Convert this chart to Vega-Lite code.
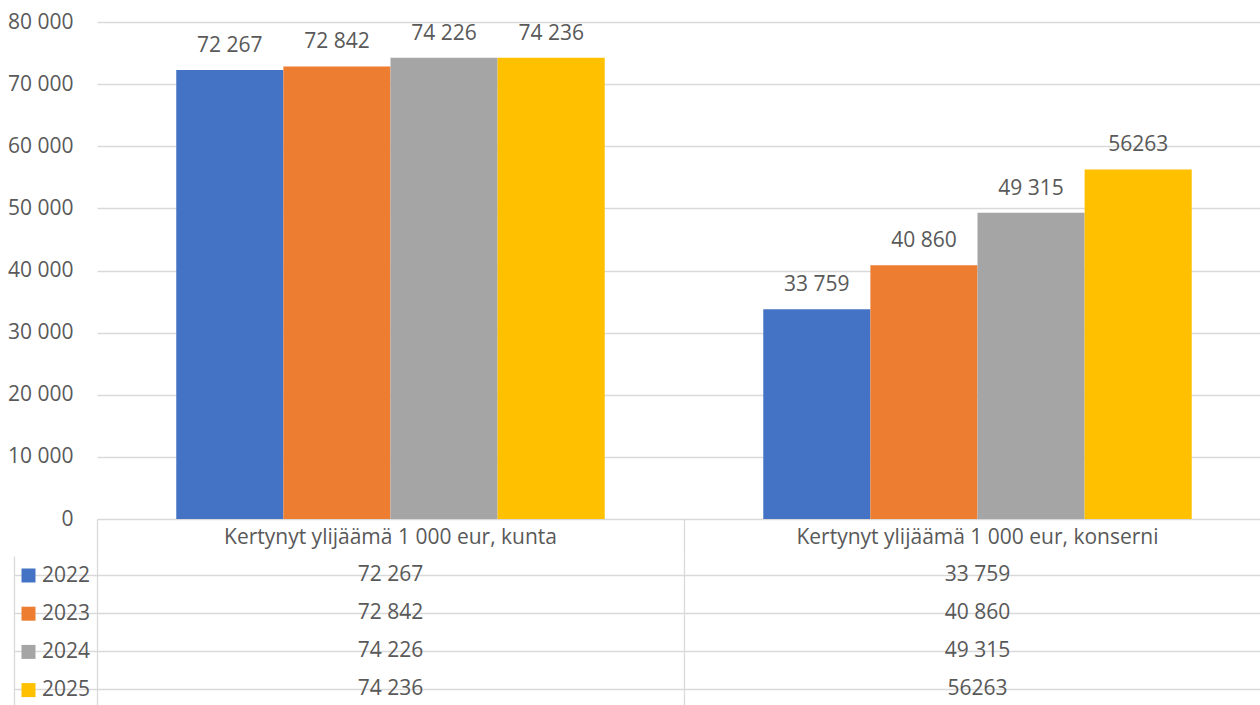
{
  "$schema": "https://vega.github.io/schema/vega-lite/v6.json",
  "padding": {"left": 7, "top": 11, "right": 0, "bottom": 0},
  "background": "white",
  "spacing": 0,
  "bounds": "flush",
  "config": {
    "view": {"stroke": null},
    "font": "Open Sans",
    "axis": {"labelFont": "Open Sans"},
    "legend": {"labelFont": "Open Sans"},
    "text": {"font": "Open Sans"}
  },
  "datasets": {
    "vals": [
      {"category": "Kertynyt ylijäämä 1 000 eur, kunta", "year": "2022", "value": 72267, "label": "72 267"},
      {"category": "Kertynyt ylijäämä 1 000 eur, kunta", "year": "2023", "value": 72842, "label": "72 842"},
      {"category": "Kertynyt ylijäämä 1 000 eur, kunta", "year": "2024", "value": 74226, "label": "74 226"},
      {"category": "Kertynyt ylijäämä 1 000 eur, kunta", "year": "2025", "value": 74236, "label": "74 236"},
      {"category": "Kertynyt ylijäämä 1 000 eur, konserni", "year": "2022", "value": 33759, "label": "33 759"},
      {"category": "Kertynyt ylijäämä 1 000 eur, konserni", "year": "2023", "value": 40860, "label": "40 860"},
      {"category": "Kertynyt ylijäämä 1 000 eur, konserni", "year": "2024", "value": 49315, "label": "49 315"},
      {"category": "Kertynyt ylijäämä 1 000 eur, konserni", "year": "2025", "value": 56263, "label": "56263"}
    ]
  },
  "vconcat": [
    {
      "width": 1163,
      "height": 497,
      "data": {"name": "vals"},
      "encoding": {
        "x": {"field": "category", "type": "nominal",
              "scale": {"domain": ["Kertynyt ylijäämä 1 000 eur, kunta", "Kertynyt ylijäämä 1 000 eur, konserni"], "range": [0, 1174], "paddingInner": 0, "paddingOuter": 0},
              "axis": null},
        "xOffset": {"field": "year", "type": "nominal", "scale": {"paddingInner": 0, "paddingOuter": 0.74}},
        "y": {"field": "value", "type": "quantitative",
              "scale": {"domain": [0, 80000], "nice": false},
              "axis": {"values": [0, 10000, 20000, 30000, 40000, 50000, 60000, 70000, 80000],
                       "labelExpr": "replace(format(datum.value, ','), ',', ' ')",
                       "ticks": false, "domain": false, "labelPadding": 24,
                       "labelFontSize": 21, "labelColor": "#595959",
                       "gridColor": "#d9d9d9", "gridWidth": 1.3, "title": null}}
      },
      "layer": [
        {
          "mark": {"type": "bar"},
          "encoding": {
            "color": {"field": "year", "type": "nominal",
                      "scale": {"domain": ["2022", "2023", "2024", "2025"], "range": ["#4472C4", "#ED7D31", "#A5A5A5", "#FFC000"]},
                      "legend": {"orient": "none", "legendX": -79, "legendY": 543, "title": null,
                                 "symbolType": "square", "symbolSize": 196, "symbolStrokeWidth": 0,
                                 "labelFontSize": 21, "labelColor": "#595959", "labelOffset": 3,
                                 "rowPadding": 16.2, "padding": 0}}
          }
        },
        {
          "mark": {"type": "text", "baseline": "alphabetic", "dy": -18, "fontSize": 21, "color": "#595959"},
          "encoding": {"text": {"field": "label"}}
        }
      ]
    },
    {
      "width": 1163,
      "height": 37,
      "data": {"name": "vals"},
      "transform": [{"aggregate": [{"op": "count", "as": "n"}], "groupby": ["category"]}],
      "mark": {"type": "text", "fontSize": 21, "color": "#595959"},
      "encoding": {
        "x": {"field": "category", "type": "nominal",
              "scale": {"domain": ["Kertynyt ylijäämä 1 000 eur, kunta", "Kertynyt ylijäämä 1 000 eur, konserni"], "range": [0, 1174], "paddingInner": 0, "paddingOuter": 0},
              "axis": {"labels": false, "ticks": false, "domain": false, "grid": true, "tickBand": "extent",
                       "gridColor": "#d9d9d9", "gridWidth": 1.3, "title": null}},
        "text": {"field": "category"}
      }
    },
    {
      "width": 1163,
      "height": 152,
      "data": {"name": "vals"},
      "encoding": {
        "x": {"field": "category", "type": "nominal",
              "scale": {"domain": ["Kertynyt ylijäämä 1 000 eur, kunta", "Kertynyt ylijäämä 1 000 eur, konserni"], "range": [0, 1174], "paddingInner": 0, "paddingOuter": 0},
              "axis": {"labels": false, "ticks": false, "domain": false, "grid": true, "tickBand": "extent",
                       "gridColor": "#d9d9d9", "gridWidth": 1.3, "title": null}},
        "text": {"field": "label"}
      },
      "layer": [
        {
          "mark": {"type": "text", "fontSize": 21, "color": "#595959"},
          "encoding": {
            "y": {"field": "year", "type": "nominal",
                  "scale": {"domain": ["2022", "2023", "2024", "2025"], "paddingInner": 0, "paddingOuter": 0},
                  "axis": {"orient": "left", "labels": false, "ticks": true, "tickSize": 83, "bandPosition": 0,
                           "tickColor": "#d9d9d9", "tickWidth": 1.3, "domain": false,
                           "grid": true, "gridColor": "#d9d9d9", "gridWidth": 1.3, "title": null}}
          }
        },
        {
          "mark": {"type": "text", "fontSize": 21, "opacity": 0},
          "encoding": {
            "y": {"field": "year", "type": "nominal",
                  "axis": {"orient": "left", "offset": 83, "labels": false, "ticks": false, "grid": false,
                           "domain": true, "domainColor": "#d9d9d9", "domainWidth": 1.3, "title": null}}
          }
        }
      ],
      "resolve": {"axis": {"y": "independent"}}
    }
  ]
}
